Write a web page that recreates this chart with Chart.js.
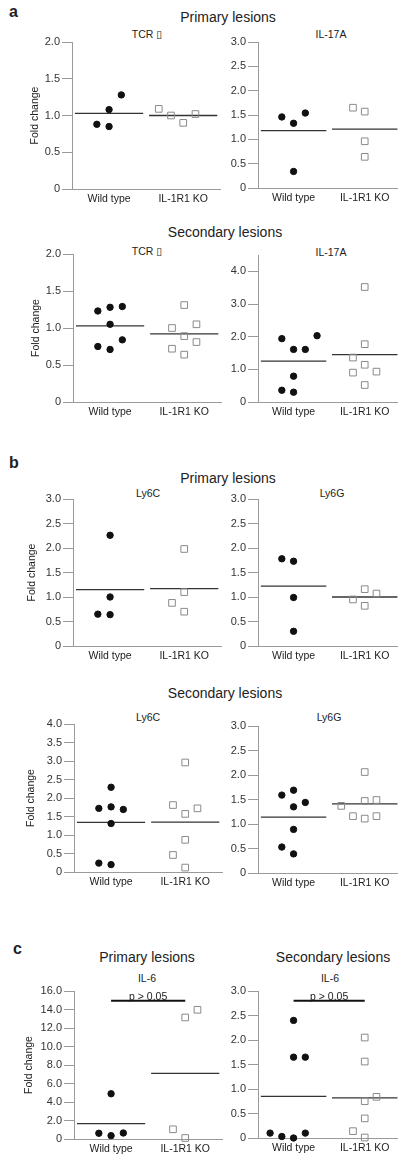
<!DOCTYPE html>
<html>
<head>
<meta charset="utf-8">
<style>
  body { margin: 0; width: 398px; height: 1159px; overflow: hidden; background: #fff; position: relative;
         font-family: "Liberation Sans", Arial, "DejaVu Sans", sans-serif; color: #222; }
  canvas { position: absolute; }
  .t { position: absolute; transform: translate(-50%, -50%); white-space: nowrap; }
  .sec { font-size: 14px; }
  .lab { font-size: 10.5px; }
  .let { position: absolute; font-weight: bold; font-size: 16px; transform: translateY(-50%); }
</style>
</head>
<body>
<div class="let" style="left:9px;top:12px">a</div>
<div class="t sec" style="left:228px;top:17px">Primary lesions</div>
<div class="t lab" style="left:147px;top:34px">TCR &#x25AF;</div>
<div class="t lab" style="left:331px;top:34px">IL-17A</div>
<div class="t sec" style="left:225px;top:232px">Secondary lesions</div>
<div class="t lab" style="left:147px;top:251px">TCR &#x25AF;</div>
<div class="t lab" style="left:331px;top:252px">IL-17A</div>

<div class="let" style="left:9px;top:463px">b</div>
<div class="t sec" style="left:228px;top:478px">Primary lesions</div>
<div class="t lab" style="left:148px;top:493px">Ly6C</div>
<div class="t lab" style="left:332px;top:493px">Ly6G</div>
<div class="t sec" style="left:225px;top:693px">Secondary lesions</div>
<div class="t lab" style="left:148px;top:717px">Ly6C</div>
<div class="t lab" style="left:329px;top:717px">Ly6G</div>

<div class="let" style="left:13px;top:949px">c</div>
<div class="t sec" style="left:147px;top:957px">Primary lesions</div>
<div class="t sec" style="left:333px;top:957px">Secondary lesions</div>
<div class="t lab" style="left:147px;top:978px">IL-6</div>
<div class="t lab" style="left:330px;top:978px">IL-6</div>

<script src="https://cdn.jsdelivr.net/npm/chart.js"></script>
<script>
    const groups = ['Wild type', 'IL-1R1 KO'];

    // a - primary lesions
    const tcrPriWt = [0.88, 0.85, 1.08, 1.28];
    const tcrPriWtCol = [-1, 0, 0, 1];
    const tcrPriKo = [1.09, 1.00, 0.90, 1.02];
    const tcrPriKoCol = [-2, -1, 0, 1];
    const tcrPriMean = [1.03, 1.00];

    const il17PriWt = [1.46, 1.33, 0.34, 1.54];
    const il17PriWtCol = [-1, 0, 0, 1];
    const il17PriKo = [1.65, 1.57, 0.96, 0.64];
    const il17PriKoCol = [-1, 0, 0, 0];
    const il17PriMean = [1.18, 1.21];

    // a - secondary lesions
    const tcrSecWt = [1.23, 0.75, 1.28, 1.05, 0.71, 1.29, 0.84];
    const tcrSecWtCol = [-1, -1, 0, 0, 0, 1, 1];
    const tcrSecKo = [1.00, 0.72, 1.31, 0.89, 0.64, 1.05, 0.81];
    const tcrSecKoCol = [-1, -1, 0, 0, 0, 1, 1];
    const tcrSecMean = [1.03, 0.92];

    const il17SecWt = [1.94, 0.36, 1.61, 0.79, 0.30, 1.61, 2.03];
    const il17SecWtCol = [-1, -1, 0, 0, 0, 1, 2];
    const il17SecKo = [1.36, 0.90, 3.52, 1.77, 1.14, 0.52, 0.93];
    const il17SecKoCol = [-1, -1, 0, 0, 0, 0, 1];
    const il17SecMean = [1.25, 1.45];

    // b - primary lesions
    const ly6cPriWt = [0.65, 2.26, 1.00, 0.64];
    const ly6cPriWtCol = [-1, 0, 0, 0];
    const ly6cPriKo = [0.88, 1.98, 1.10, 0.70];
    const ly6cPriKoCol = [-1, 0, 0, 0];
    const ly6cPriMean = [1.15, 1.17];

    const ly6gPriWt = [1.78, 1.73, 0.99, 0.30];
    const ly6gPriWtCol = [-1, 0, 0, 0];
    const ly6gPriKo = [0.95, 1.16, 0.82, 1.07];
    const ly6gPriKoCol = [-1, 0, 0, 1];
    const ly6gPriMean = [1.22, 1.00];

    // b - secondary lesions
    const ly6cSecWt = [1.72, 0.24, 2.29, 1.76, 1.31, 0.20, 1.69];
    const ly6cSecWtCol = [-1, -1, 0, 0, 0, 0, 1];
    const ly6cSecKo = [1.81, 0.46, 2.96, 1.57, 0.87, 0.12, 1.72];
    const ly6cSecKoCol = [-1, -1, 0, 0, 0, 0, 1];
    const ly6cSecMean = [1.34, 1.35];

    const ly6gSecWt = [1.59, 0.53, 1.69, 1.35, 0.89, 0.39, 1.44];
    const ly6gSecWtCol = [-1, -1, 0, 0, 0, 0, 1];
    const ly6gSecKo = [1.37, 1.16, 2.06, 1.47, 1.11, 1.49, 1.16];
    const ly6gSecKoCol = [-2, -1, 0, 0, 0, 1, 1];
    const ly6gSecMean = [1.14, 1.41];

    // c - IL-6
    const il6PriWt = [0.62, 4.89, 0.36, 0.65];
    const il6PriWtCol = [-1, 0, 0, 1];
    const il6PriKo = [1.05, 13.14, 0.11, 13.97];
    const il6PriKoCol = [-1, 0, 0, 1];
    const il6PriMean = [1.67, 7.10];
    const il6PriP = 14.95;

    const il6SecWt = [0.10, 0.03, 2.40, 1.65, 0.00, 1.65, 0.10];
    const il6SecWtCol = [-2, -1, 0, 0, 0, 1, 1];
    const il6SecKo = [0.14, 2.05, 1.56, 0.75, 0.40, 0.01, 0.84];
    const il6SecKoCol = [-1, 0, 0, 0, 0, 0, 1];
    const il6SecMean = [0.85, 0.82];
    const il6SecP = 2.80;

    // y tick values
    const ticks2 = [0, 0.5, 1, 1.5, 2];
    const ticks3 = [0, 0.5, 1, 1.5, 2, 2.5, 3];
    const ticks4half = [0, 0.5, 1, 1.5, 2, 2.5, 3, 3.5, 4];
    const ticks4 = [0, 1, 2, 3, 4];
    const ticks16 = [0, 2, 4, 6, 8, 10, 12, 14, 16];

    const SPREAD = 0.165;
    const AXIS = '#9a9a9a';

    function dots(vals, cols, center) {
        return vals.map((v, i) => ({ x: center + cols[i] * SPREAD, y: v }));
    }

    const pLabel = {
        id: 'pLabel',
        afterDatasetsDraw(chart) {
            const ds = chart.data.datasets.find(d => d.isP);
            if (!ds) return;
            const meta = chart.getDatasetMeta(chart.data.datasets.indexOf(ds));
            const a = meta.data[0], b = meta.data[1];
            const ctx = chart.ctx;
            ctx.save();
            ctx.font = '10.5px "Liberation Sans", Arial, sans-serif';
            ctx.fillStyle = '#222';
            ctx.textAlign = 'center';
            ctx.textBaseline = 'alphabetic';
            ctx.fillText('p > 0.05', (a.x + b.x) / 2, a.y - 1);
            ctx.restore();
        }
    };

    function makePanel(p) {
        const padTop = 10, xH = 26, plotW = 148;
        const w = p.axisW + plotW + (p.right ? 0 : 6);
        const h = padTop + p.h + xH;
        const c = document.createElement('canvas');
        c.width = w; c.height = h;
        c.style.width = w + 'px'; c.style.height = h + 'px';
        c.style.left = p.x + 'px'; c.style.top = (p.top - padTop) + 'px';
        document.body.appendChild(c);

        const datasets = [
            { data: dots(p.wt, p.wtCol, 0.5), pointStyle: 'circle', pointRadius: 3.2,
              backgroundColor: '#111', borderColor: '#111', borderWidth: 1, clip: false },
            { data: dots(p.ko, p.koCol, 1.5), pointStyle: 'rect', pointRadius: 4.7,
              backgroundColor: 'rgba(0,0,0,0)', borderColor: '#8a8a8a', borderWidth: 1, clip: false },
            { data: [{ x: 0.04, y: p.mean[0] }, { x: 0.96, y: p.mean[0] }], showLine: true,
              pointRadius: 0, borderColor: '#333', borderWidth: 1.3, clip: false },
            { data: [{ x: 1.04, y: p.mean[1] }, { x: 1.96, y: p.mean[1] }], showLine: true,
              pointRadius: 0, borderColor: '#333', borderWidth: 1.3, clip: false }
        ];
        if (p.pval !== undefined) {
            datasets.push({ isP: true, data: [{ x: 0.5, y: p.pval }, { x: 1.5, y: p.pval }], showLine: true,
                pointRadius: 0, borderColor: '#111', borderWidth: 2, clip: false });
        }

        return new Chart(c, {
            type: 'scatter',
            data: { datasets },
            options: {
                responsive: false,
                animation: false,
                layout: { padding: { top: padTop, left: 0, right: 0, bottom: 0 } },
                plugins: { legend: { display: false }, tooltip: { enabled: false } },
                scales: {
                    x: {
                        type: 'linear', min: 0, max: 2,
                        afterBuildTicks: s => { s.ticks = [{ value: 0.5 }, { value: 1.5 }]; },
                        afterFit: s => { s.height = xH; },
                        ticks: { callback: (v, i) => groups[i], color: '#222', padding: 4,
                                 font: { family: '"Liberation Sans", Arial, sans-serif', size: 10.5 } },
                        grid: { drawOnChartArea: false, drawTicks: false },
                        border: { color: AXIS, width: 1 }
                    },
                    y: {
                        type: 'linear', min: 0, max: p.max,
                        afterBuildTicks: s => { s.ticks = p.ticks.map(v => ({ value: v })); },
                        afterFit: s => { s.width = p.axisW; },
                        ticks: { callback: v => v === 0 ? '0' : v.toFixed(1), color: '#333', padding: 2,
                                 font: { family: '"Liberation Sans", Arial, sans-serif', size: 11 } },
                        grid: { drawOnChartArea: false, color: AXIS, tickLength: 10 },
                        border: { color: AXIS, width: 1 },
                        title: { display: !p.right, text: 'Fold change', color: '#222',
                                 padding: { top: (p.titleX || 35) - 6.3, bottom: 0 },
                                 font: { family: '"Liberation Sans", Arial, sans-serif', size: 10.5 } }
                    }
                }
            },
            plugins: [pLabel]
        });
    }

    makePanel({ x: 0, axisW: 72, top: 42, h: 147, max: 2, ticks: ticks2, titleX: 35,
                wt: tcrPriWt, wtCol: tcrPriWtCol, ko: tcrPriKo, koCol: tcrPriKoCol, mean: tcrPriMean });
    makePanel({ x: 190, axisW: 68, right: true, top: 42, h: 146, max: 3, ticks: ticks3,
                wt: il17PriWt, wtCol: il17PriWtCol, ko: il17PriKo, koCol: il17PriKoCol, mean: il17PriMean });

    makePanel({ x: 0, axisW: 73, top: 254, h: 148, max: 2, ticks: ticks2, titleX: 36,
                wt: tcrSecWt, wtCol: tcrSecWtCol, ko: tcrSecKo, koCol: tcrSecKoCol, mean: tcrSecMean });
    makePanel({ x: 190, axisW: 68, right: true, top: 255, h: 147, max: 4.5, ticks: ticks4,
                wt: il17SecWt, wtCol: il17SecWtCol, ko: il17SecKo, koCol: il17SecKoCol, mean: il17SecMean });

    makePanel({ x: 0, axisW: 73, top: 499, h: 147, max: 3, ticks: ticks3, titleX: 32,
                wt: ly6cPriWt, wtCol: ly6cPriWtCol, ko: ly6cPriKo, koCol: ly6cPriKoCol, mean: ly6cPriMean });
    makePanel({ x: 190, axisW: 68, right: true, top: 499, h: 147, max: 3, ticks: ticks3,
                wt: ly6gPriWt, wtCol: ly6gPriWtCol, ko: ly6gPriKo, koCol: ly6gPriKoCol, mean: ly6gPriMean });

    makePanel({ x: 0, axisW: 74, top: 724, h: 148, max: 4, ticks: ticks4half, titleX: 31,
                wt: ly6cSecWt, wtCol: ly6cSecWtCol, ko: ly6cSecKo, koCol: ly6cSecKoCol, mean: ly6cSecMean });
    makePanel({ x: 190, axisW: 68, right: true, top: 726, h: 147, max: 3, ticks: ticks3,
                wt: ly6gSecWt, wtCol: ly6gSecWtCol, ko: ly6gSecKo, koCol: ly6gSecKoCol, mean: ly6gSecMean });

    makePanel({ x: 0, axisW: 74, top: 991, h: 148, max: 16, ticks: ticks16, titleX: 29, pval: il6PriP,
                wt: il6PriWt, wtCol: il6PriWtCol, ko: il6PriKo, koCol: il6PriKoCol, mean: il6PriMean });
    makePanel({ x: 190, axisW: 68, right: true, top: 991, h: 147, max: 3, ticks: ticks3, pval: il6SecP,
                wt: il6SecWt, wtCol: il6SecWtCol, ko: il6SecKo, koCol: il6SecKoCol, mean: il6SecMean });
</script>
</body>
</html>
